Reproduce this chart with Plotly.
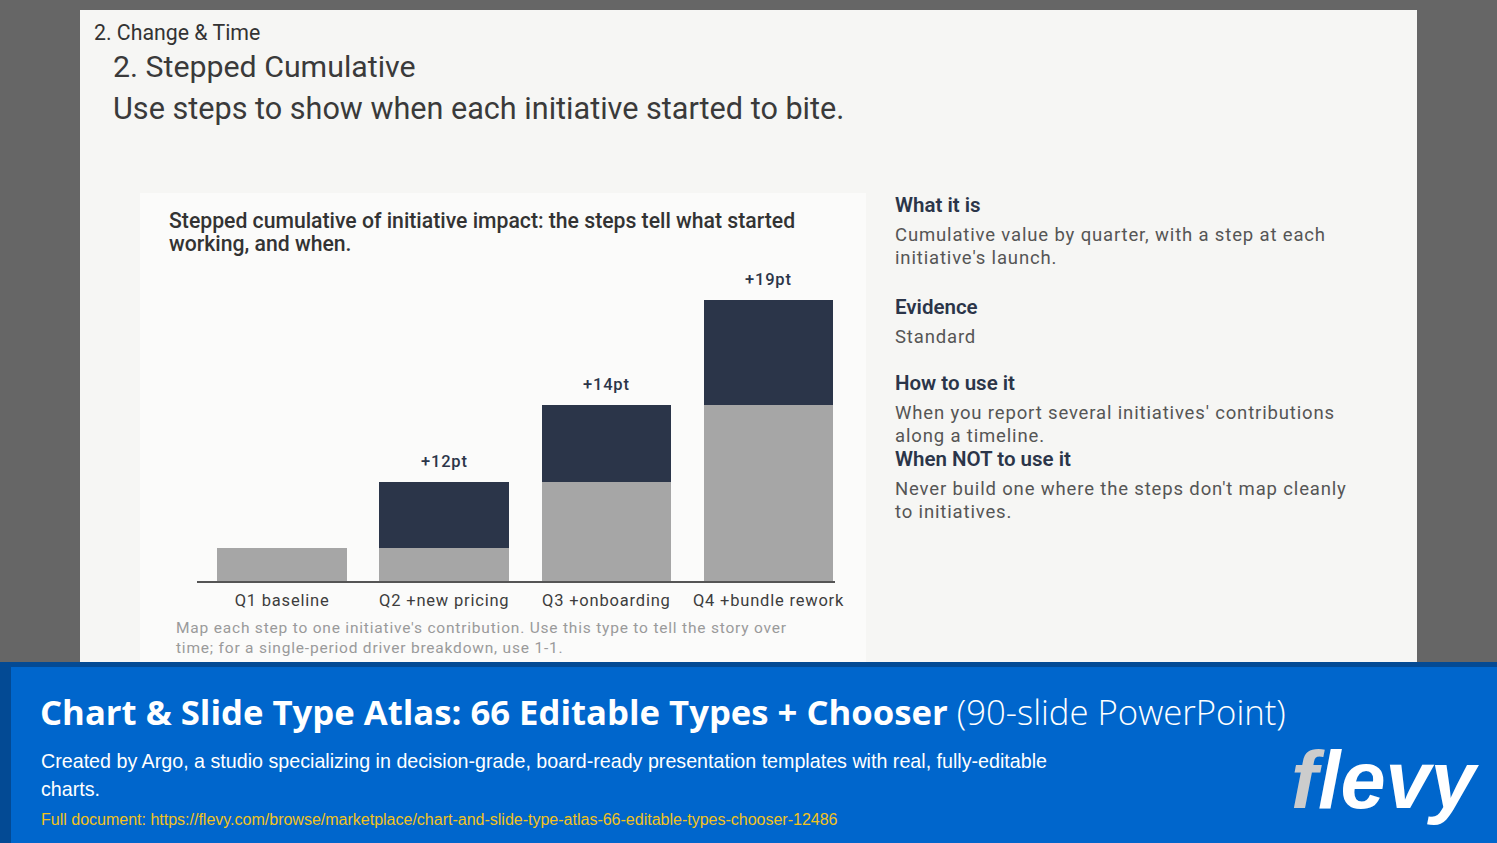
import plotly.graph_objects as go

W, H = 1497, 843

# ---- data ----
categories = ["Q1 baseline", "Q2 +new pricing", "Q3 +onboarding", "Q4 +bundle rework"]
prior_cumulative = [6, 6, 18, 32]
step_increment = [0, 12, 14, 19]
step_labels = ["", "+12pt", "+14pt", "+19pt"]

NAVY = "#2b3549"
GREY_BAR = "#a6a6a6"


def px(x):
    return x / W


def py(y):
    return 1 - y / H


def spaced(t, ls):
    return f"<span style='letter-spacing:{ls}px'>{t}</span>"


fig = go.Figure()
fig.add_trace(go.Bar(x=categories, y=prior_cumulative, marker=dict(color=GREY_BAR, line=dict(width=0)),
                     width=0.8, hoverinfo="skip", showlegend=False))
fig.add_trace(go.Bar(x=categories, y=step_increment, marker=dict(color=NAVY, line=dict(width=0)),
                     width=0.8, hoverinfo="skip", showlegend=False))

annotations = []
for c, b, s, lab in zip(categories, prior_cumulative, step_increment, step_labels):
    if lab:
        annotations.append(dict(x=c, y=b + s, xref="x", yref="y", text=spaced(lab, 0.8), showarrow=False,
                                yanchor="bottom", yshift=9,
                                font=dict(family="Roboto", size=16.5, color=NAVY, weight=500)))


def txt(x, y, text, size, color, weight=400, family="Roboto", anchor="left"):
    annotations.append(dict(x=px(x), y=py(y), xref="paper", yref="paper", text=text,
                            showarrow=False, xanchor=anchor, yanchor="middle", align="left",
                            font=dict(family=family, size=size, color=color, weight=weight)))


# header
txt(92, 33, "2. Change &amp; Time", 21.3, "#333333")
txt(111, 67, "2. Stepped Cumulative", 30.3, "#3a3a3a")
txt(111, 108, "Use steps to show when each initiative started to bite.", 30.6, "#3a3a3a")

# chart title & caption
txt(167, 220, "Stepped cumulative of initiative impact: the steps tell what started", 21.2, "#333333", 500)
txt(167, 243, "working, and when.", 21.2, "#333333", 500)
txt(174, 628, spaced("Map each step to one initiative's contribution. Use this type to tell the story over", 0.8),
    15.5, "#9a9a9a")
txt(174, 648, spaced("time; for a single-period driver breakdown, use 1-1.", 0.8), 15.5, "#9a9a9a")

# right panel
BODY = "#555555"
txt(893, 205, "What it is", 20.5, NAVY, 650)
txt(893, 235, spaced("Cumulative value by quarter, with a step at each", 0.85), 18.5, BODY)
txt(893, 258, spaced("initiative's launch.", 0.85), 18.5, BODY)
txt(893, 307, "Evidence", 20.5, NAVY, 650)
txt(893, 337, spaced("Standard", 0.85), 18.5, BODY)
txt(893, 383, "How to use it", 20.5, NAVY, 650)
txt(893, 413, spaced("When you report several initiatives' contributions", 0.85), 18.5, BODY)
txt(893, 436, spaced("along a timeline.", 0.85), 18.5, BODY)
txt(893, 459, "When NOT to use it", 20.5, NAVY, 650)
txt(893, 489, spaced("Never build one where the steps don't map cleanly", 0.85), 18.5, BODY)
txt(893, 512, spaced("to initiatives.", 0.85), 18.5, BODY)

# banner
txt(38, 711, "<b>Chart &amp; Slide Type Atlas: 66 Editable Types + Chooser</b> "
             "<span style='font-weight:300'>(90-slide PowerPoint)</span>", 34.7, "#ffffff", 400, "Open Sans")
txt(39, 761, "Created by Argo, a studio specializing in decision-grade, board-ready presentation templates with real, fully-editable",
    19.68, "#ffffff", 400, "Liberation Sans")
txt(39, 789, "charts.", 19.68, "#ffffff", 400, "Liberation Sans")
txt(39, 819, "Full document: https://flevy.com/browse/marketplace/chart-and-slide-type-atlas-66-editable-types-chooser-12486",
    16.0, "#f2c21b", 400, "Liberation Sans")
txt(1289, 780, "<i><span style='color:#cccccc'>f</span>levy</i>", 81, "#ffffff", 700, "Liberation Sans")

shapes = [
    dict(type="rect", xref="paper", yref="paper", x0=px(80), x1=px(1417), y0=py(662), y1=py(10),
         fillcolor="#f6f6f4", line=dict(width=0), layer="below"),
    dict(type="rect", xref="paper", yref="paper", x0=px(140), x1=px(866), y0=py(662), y1=py(193),
         fillcolor="#fbfbfa", line=dict(width=0), layer="below"),
    dict(type="rect", xref="paper", yref="paper", x0=0, x1=1, y0=0, y1=py(662),
         fillcolor="#034a94", line=dict(width=0), layer="above"),
    dict(type="rect", xref="paper", yref="paper", x0=px(11), x1=1, y0=0, y1=py(667),
         fillcolor="#0066cc", line=dict(width=0), layer="above"),
]

fig.update_layout(
    width=W, height=H,
    margin=dict(l=0, r=0, t=0, b=0, autoexpand=False),
    paper_bgcolor="#666666",
    plot_bgcolor="rgba(0,0,0,0)",
    barmode="stack",
    bargap=0.2,
    showlegend=False,
    xaxis=dict(domain=[px(197), px(835)], range=[-0.525, 3.41], showline=True, linecolor="#555555",
               linewidth=2, showgrid=False, zeroline=False, ticks="", ticklabelstandoff=3,
               automargin=False,
               tickvals=categories, ticktext=[spaced(c, 0.8) for c in categories],
               tickfont=dict(family="Roboto", size=16.5, color="#3d3d3d"), fixedrange=True),
    yaxis=dict(domain=[py(581), py(270)], range=[0, 56.5], visible=False, showgrid=False,
               zeroline=False, fixedrange=True, automargin=False),
    shapes=shapes,
    annotations=annotations,
)

fig.write_html("out.html", config={"displayModeBar": False})
